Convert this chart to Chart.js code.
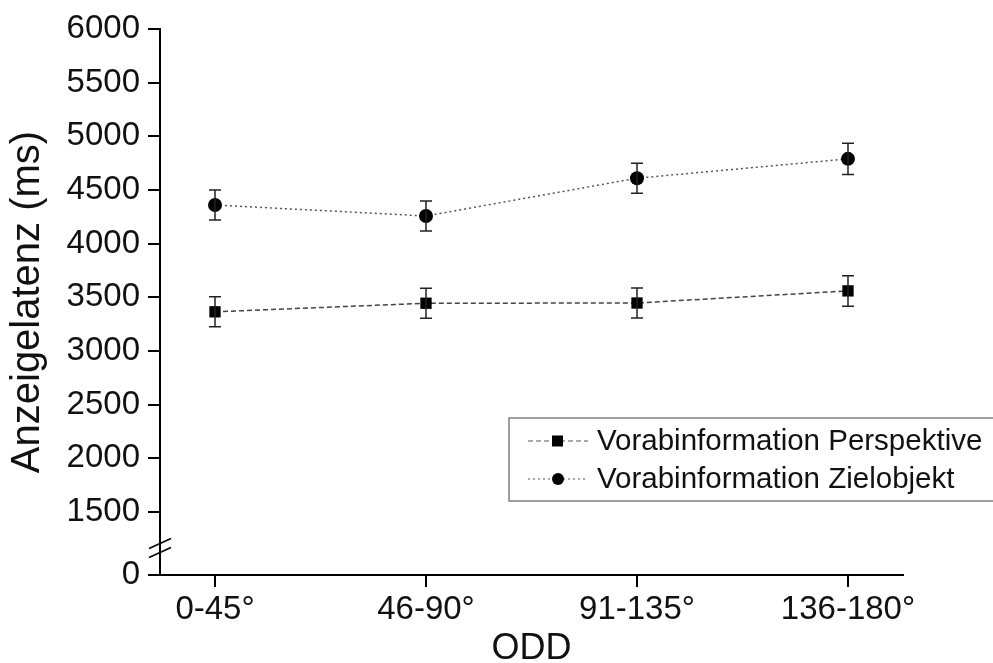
<!DOCTYPE html>
<html>
<head>
<meta charset="utf-8">
<script src="https://cdn.jsdelivr.net/npm/chart.js@4"></script>
<style>
  html, body { margin: 0; padding: 0; background: #fff; }
  canvas { display: block; }
</style>
</head>
<body>
<canvas id="latencyChart" width="993" height="663"></canvas>
<script>
// categories and values
const categories = ["0-45°", "46-90°", "91-135°", "136-180°"];
const perspektive = [3365, 3445, 3447, 3560];
const perspektiveErr = [140, 140, 140, 142];
const zielobjekt = [4360, 4258, 4610, 4790];
const zielobjektErr = [140, 140, 140, 145];
const yTickLabels = [0, 1500, 2000, 2500, 3000, 3500, 4000, 4500, 5000, 5500, 6000];

// the axis is broken between 0 and 1500; "0" sits at this axis value
const yBreakBottom = 913;
const yTop = 6000;

const fontFamily = "'Liberation Sans', Arial, sans-serif";

function toPoints(values) {
  return values.map((v, i) => ({ x: i, y: v }));
}

// error bars from the errors arrays
const errorBarPlugin = {
  id: "errorBars",
  afterDatasetsDraw(chart) {
    const ctx = chart.ctx;
    const xScale = chart.scales.x;
    const yScale = chart.scales.y;
    ctx.save();
    ctx.strokeStyle = "#222";
    ctx.lineWidth = 1.5;
    chart.data.datasets.forEach((ds) => {
      ds.data.forEach((pt, i) => {
        const err = ds.errors[i];
        const x = xScale.getPixelForValue(pt.x);
        const yHi = yScale.getPixelForValue(pt.y + err);
        const yLo = yScale.getPixelForValue(pt.y - err);
        ctx.beginPath();
        ctx.moveTo(x, yHi);
        ctx.lineTo(x, yLo);
        ctx.moveTo(x - 6, yHi);
        ctx.lineTo(x + 6, yHi);
        ctx.moveTo(x - 6, yLo);
        ctx.lineTo(x + 6, yLo);
        ctx.stroke();
      });
    });
    ctx.restore();
  },
};

// the two slashes of the axis break
const axisBreakPlugin = {
  id: "axisBreak",
  afterDraw(chart) {
    const ctx = chart.ctx;
    const x = chart.chartArea.left;
    const yMid = (chart.scales.y.getPixelForValue(1500) + chart.chartArea.bottom) / 2 + 5;
    ctx.save();
    ctx.strokeStyle = "#000";
    ctx.lineWidth = 1.5;
    [-5, 4].forEach((off) => {
      ctx.beginPath();
      ctx.moveTo(x - 11, yMid + off + 5);
      ctx.lineTo(x + 11, yMid + off - 5);
      ctx.stroke();
    });
    ctx.restore();
  },
};

// legend box in the lower right
const legendPlugin = {
  id: "boxLegend",
  afterDraw(chart) {
    const ctx = chart.ctx;
    ctx.save();
    ctx.strokeStyle = "#808080";
    ctx.lineWidth = 1.5;
    ctx.strokeRect(509, 418, 490, 83);
    const rows = [441, 479];
    chart.data.datasets.forEach((ds, i) => {
      const y = rows[i];
      ctx.strokeStyle = "#555";
      ctx.lineWidth = 1;
      ctx.setLineDash(ds.borderDash);
      ctx.beginPath();
      ctx.moveTo(528, y);
      ctx.lineTo(588, y);
      ctx.stroke();
      ctx.setLineDash([]);
      ctx.fillStyle = "#000";
      if (ds.pointStyle === "rect") {
        ctx.fillRect(552, y - 5.5, 11, 11);
      } else {
        ctx.beginPath();
        ctx.arc(558, y, 6, 0, Math.PI * 2);
        ctx.fill();
      }
      ctx.fillStyle = "#111";
      ctx.font = "29.5px " + fontFamily;
      ctx.textBaseline = "middle";
      ctx.fillText(ds.label, 597, y + 1);
    });
    ctx.restore();
  },
};

const ctx = document.getElementById("latencyChart").getContext("2d");

new Chart(ctx, {
  type: "line",
  data: {
    datasets: [
      {
        label: "Vorabinformation Perspektive",
        data: toPoints(perspektive),
        errors: perspektiveErr,
        borderColor: "#444",
        borderWidth: 1.5,
        borderDash: [5, 3],
        pointStyle: "rect",
        pointRadius: 8,
        pointBackgroundColor: "#000",
        pointBorderWidth: 0,
        tension: 0,
      },
      {
        label: "Vorabinformation Zielobjekt",
        data: toPoints(zielobjekt),
        errors: zielobjektErr,
        borderColor: "#555",
        borderWidth: 1.5,
        borderDash: [2, 3],
        pointStyle: "circle",
        pointRadius: 7,
        pointBackgroundColor: "#000",
        pointBorderWidth: 0,
        tension: 0,
      },
    ],
  },
  options: {
    responsive: false,
    devicePixelRatio: 1,
    animation: false,
    layout: {
      padding: { top: 29, right: 90, bottom: 0, left: 0 },
    },
    plugins: {
      legend: { display: false },
      tooltip: { enabled: false },
    },
    scales: {
      x: {
        type: "linear",
        min: -0.2607,
        max: 3.2607,
        afterBuildTicks: (scale) => {
          scale.ticks = categories.map((c, i) => ({ value: i }));
        },
        afterFit: (scale) => {
          scale.height = 88;
        },
        border: { display: true, color: "#000", width: 2 },
        grid: {
          drawOnChartArea: false,
          drawTicks: true,
          tickLength: 12,
          color: "#000",
          lineWidth: 2,
        },
        ticks: {
          color: "#111",
          padding: 3,
          maxRotation: 0,
          font: { family: fontFamily, size: 33 },
          callback: (value) => categories[value],
        },
        title: {
          display: true,
          text: "ODD",
          color: "#111",
          padding: 0,
          font: { family: fontFamily, size: 36, lineHeight: 0.8 },
        },
      },
      y: {
        min: yBreakBottom,
        max: yTop,
        afterBuildTicks: (scale) => {
          scale.ticks = yTickLabels.map((v) => ({ value: v === 0 ? yBreakBottom : v }));
        },
        afterFit: (scale) => {
          scale.width = 160;
        },
        border: { display: true, color: "#000", width: 2 },
        grid: {
          drawOnChartArea: false,
          drawTicks: true,
          tickLength: 12,
          color: "#000",
          lineWidth: 2,
        },
        ticks: {
          color: "#111",
          padding: 8,
          font: { family: fontFamily, size: 33 },
          callback: (value) => (value === yBreakBottom ? "0" : String(value)),
        },
        title: {
          display: true,
          text: "Anzeigelatenz (ms)",
          color: "#111",
          padding: { top: 4, bottom: 0 },
          font: { family: fontFamily, size: 40 },
        },
      },
    },
  },
  plugins: [errorBarPlugin, axisBreakPlugin, legendPlugin],
});
</script>
</body>
</html>
